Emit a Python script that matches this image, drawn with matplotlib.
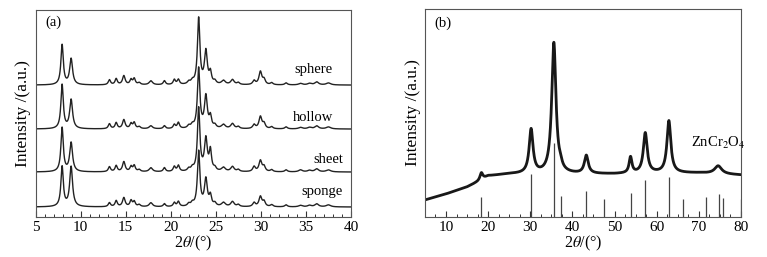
import numpy as np
import matplotlib
matplotlib.use('Agg')
from matplotlib import pyplot as plt

plt.rcParams['font.family'] = ['Liberation Serif', 'DejaVu Serif']
plt.rcParams['mathtext.fontset'] = 'stix'

# ---- panel (a): peak table (2theta, heights per sample)
peak_pos = [7.95, 8.95, 13.2, 13.95, 14.8, 15.6, 15.95, 16.5, 17.8, 19.3, 20.4, 20.85,
            22.0, 22.4, 23.1, 23.9, 24.4, 24.9, 25.85, 26.85, 27.5, 29.25, 29.95, 30.35,
            31.2, 32.8, 34.4, 35.4, 36.2, 37.5]
peak_fwhm = [0.32, 0.38, 0.3, 0.3, 0.35, 0.3, 0.3, 0.35, 0.45, 0.3, 0.3, 0.3,
             0.35, 0.35, 0.32, 0.38, 0.3, 0.35, 0.5, 0.45, 0.35, 0.35, 0.38, 0.35,
             0.35, 0.35, 0.5, 0.5, 0.5, 0.6]
sphere = [40, 26, 5, 6, 9, 5, 6, 2, 4, 4, 5, 5, 2.5, 3, 66, 33, 11, 3, 4, 5, 2, 4, 13, 5,
          2, 2, 1.5, 1.5, 3, 2]
hollow = [44, 29, 5, 6, 9, 5, 6, 2, 3, 3, 4, 6, 2.5, 3, 60, 32, 11, 3, 4, 5, 2, 4, 12, 5,
          2, 2, 1.5, 1.5, 3, 2]
sheet = [44, 29, 5, 6, 10, 5, 6, 2, 4, 4, 5, 6, 2.5, 3, 63, 32, 20, 3, 4, 5, 2, 5, 11, 5,
         2, 2, 2, 1.5, 3, 2]
sponge = [40, 40, 4, 6, 9, 6, 5, 2, 4, 3, 4, 5, 2.5, 3, 55, 27, 10, 3, 4, 5, 2, 4, 10, 5,
          2, 2, 1.5, 1.5, 3, 2]
sample_names = ['sphere', 'hollow', 'sheet', 'sponge']
sample_offsets = [132, 88, 45, 10]
label_x = [38.0, 38.0, 39.1, 39.1]
label_y = [148, 100, 58, 26]

# ---- panel (b): ZnCr2O4
bg_x = [5, 10, 15, 17.5, 20, 25, 40, 50, 60, 70, 80]
bg_y = [17, 23, 30, 35, 41, 43, 43, 43, 44, 44, 42]
b_pos = [18.4, 30.2, 35.6, 37.2, 43.3, 53.8, 57.3, 62.9, 74.6]
b_fwhm = [0.8, 1.1, 1.2, 0.8, 1.1, 0.8, 1.1, 1.1, 2.0]
b_h = [7, 44, 131, 4, 18, 16, 40, 52, 8]
ref_pos = [18.4, 30.2, 35.6, 37.2, 43.3, 47.5, 53.9, 57.3, 62.9, 66.3, 71.7, 74.8, 75.7, 79.9]
ref_h = [20, 43, 74, 21, 26, 18, 24, 37, 40, 18, 20, 23, 19, 18]


def lorentz_sum(x, pos, fwhm, h):
    y = np.zeros_like(x)
    for p, w, a in zip(pos, fwhm, h):
        y += a / (1 + ((x - p) / (w / 2)) ** 2)
    return y


fig = plt.figure(figsize=(7.67, 2.57), dpi=100)
ax1 = fig.add_axes([0.0463, 0.1556, 0.4113, 0.805])
ax2 = fig.add_axes([0.554, 0.1556, 0.412, 0.809])

xa = np.linspace(5, 40, 4000)
for name, hts, off, lx, ly in zip(sample_names, [sphere, hollow, sheet, sponge],
                                  sample_offsets, label_x, label_y):
    ax1.plot(xa, off + lorentz_sum(xa, peak_pos, peak_fwhm, hts), color='#222222', lw=1.0)
    ax1.text(lx, ly, name, ha='right', va='center', fontsize=10.5)

ax1.set_xlim(5, 40)
ax1.set_ylim(0, 207)
ax1.set_xticks(np.arange(5, 41, 5))
ax1.set_xticks(np.arange(5, 41, 1), minor=True)
ax1.text(0.03, 0.94, '(a)', transform=ax1.transAxes, fontsize=10.5, va='center')

xb = np.linspace(5, 80, 6000)
yb = np.interp(xb, bg_x, bg_y) + lorentz_sum(xb, b_pos, b_fwhm, b_h)
ax2.plot(xb, yb, color='#181818', lw=2.0)
ax2.vlines(ref_pos, 0, ref_h, color='#444444', lw=0.9)
ax2.text(68.1, 74, 'ZnCr$_2$O$_4$', fontsize=10.5, va='center')
ax2.set_xlim(5, 80)
ax2.set_ylim(0, 208)
ax2.set_xticks(np.arange(10, 81, 10))
ax2.set_xticks(np.arange(5, 80.1, 2.5), minor=True)
ax2.text(0.03, 0.93, '(b)', transform=ax2.transAxes, fontsize=10.5, va='center')

for ax in (ax1, ax2):
    ax.set_yticks([])
    ax.tick_params(axis='x', which='major', direction='in', length=4, width=0.8,
                   labelsize=11, pad=3, colors='#333333', labelcolor='black')
    ax.tick_params(axis='x', which='minor', direction='in', length=2.5, width=0.7,
                   colors='#333333')
    for s in ax.spines.values():
        s.set_color('#555555')
        s.set_linewidth(0.8)
    ax.set_xlabel(r'2$\mathit{\theta}$/(°)', fontsize=11.5, labelpad=0)
    ax.set_ylabel('Intensity /(a.u.)', fontsize=12.5, labelpad=3)

fig.savefig('out.png', dpi=100)
